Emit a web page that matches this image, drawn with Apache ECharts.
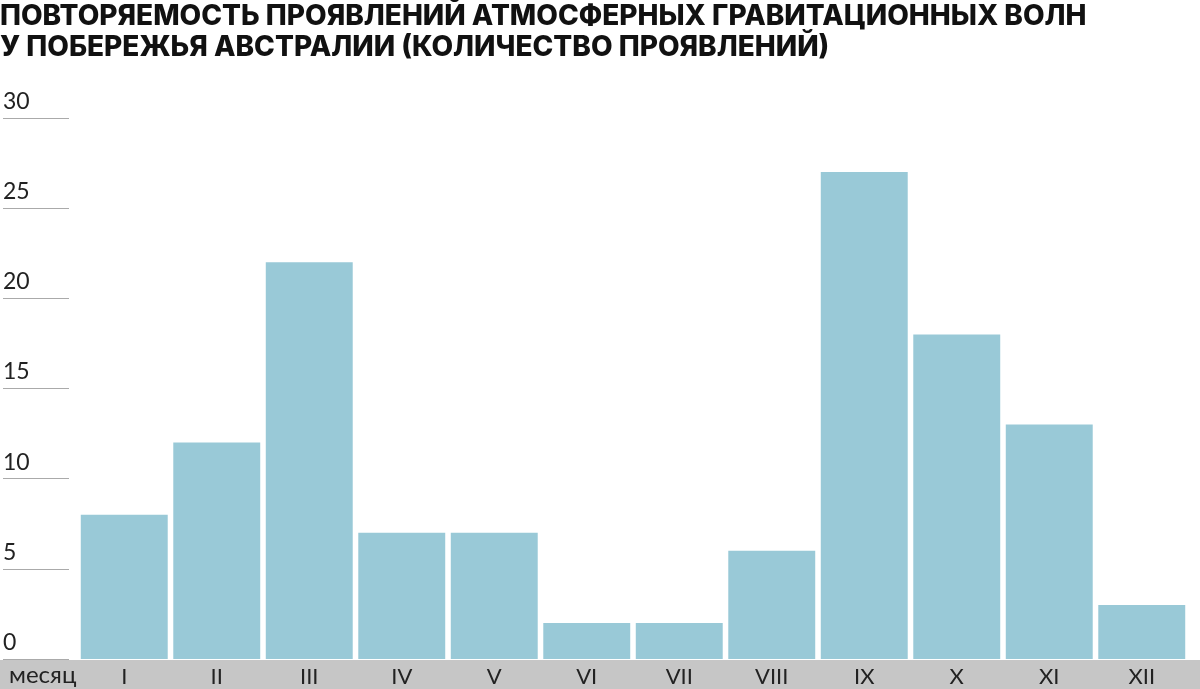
<!DOCTYPE html>
<html><head><meta charset="utf-8">
<script src="https://cdn.jsdelivr.net/npm/echarts@6/dist/echarts.min.js"></script>
<style>html,body{margin:0;padding:0;background:#fff}#c{width:1200px;height:689px}</style>
</head><body><div id="c"></div>
<script>
const titleLines = ['ПОВТОРЯЕМОСТЬ ПРОЯВЛЕНИЙ АТМОСФЕРНЫХ ГРАВИТАЦИОННЫХ ВОЛН', 'У ПОБЕРЕЖЬЯ АВСТРАЛИИ (КОЛИЧЕСТВО ПРОЯВЛЕНИЙ)'];
const months = ['I','II','III','IV','V','VI','VII','VIII','IX','X','XI','XII'];
const counts = [8, 12, 22, 7, 7, 2, 2, 6, 27, 18, 13, 3];
const axisName = 'месяц';
const yMin = 0, yMax = 30, yStep = 5;

const lightFont = 'Lato, "Noto Sans", sans-serif';
const chart = echarts.init(document.getElementById('c'));
chart.setOption({
  animation: false,
  grid: {left: 77, right: 12, top: 118, bottom: 30},
  graphic: [
    {type: 'rect', left: 0, top: 660, shape: {width: 1200, height: 29}, style: {fill: '#c6c6c6'}, z: 0},
    {type: 'text', left: 9, top: 663, style: {text: axisName, font: '24px Lato, "Noto Sans", sans-serif', fill: '#222'}, z: 5},
    {type: 'text', left: 0, top: 1, style: {text: titleLines.join('\n'), font: '800 28px Inter, "Noto Sans", sans-serif', fill: '#111', lineHeight: 31}}
  ],
  xAxis: {
    type: 'category', data: months,
    axisLine: {show: false}, axisTick: {show: false},
    axisLabel: {margin: 18, verticalAlign: 'middle', fontSize: 22, color: '#222', fontFamily: lightFont, fontWeight: 'normal'},
    z: 5
  },
  yAxis: {
    type: 'value', min: yMin, max: yMax, interval: yStep, offset: 9,
    splitLine: {show: false},
    axisLine: {show: false},
    axisTick: {show: true, length: 66, lineStyle: {color: '#aaa', width: 1}},
    axisLabel: {margin: 66, align: 'left', verticalAlign: 'bottom', padding: [0, 0, 5, 0], fontSize: 23, color: '#222', fontFamily: lightFont, fontWeight: 'normal'}
  },
  series: [{
    type: 'bar', data: counts, barCategoryGap: '6%',
    itemStyle: {color: '#99c9d7'}
  }]
});
</script></body></html>
